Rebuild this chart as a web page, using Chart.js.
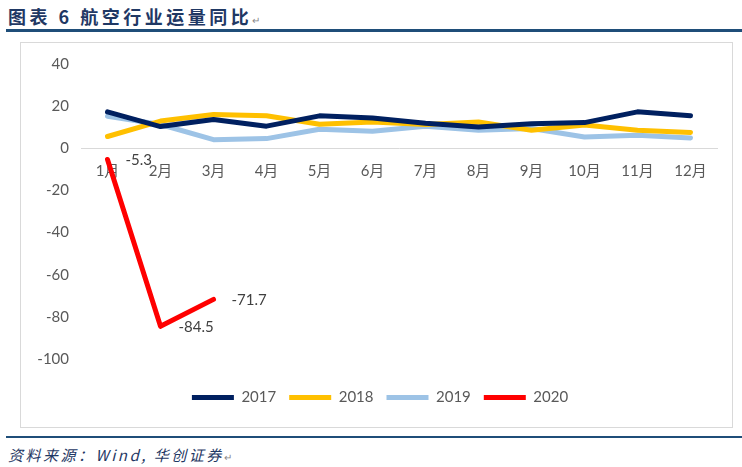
<!DOCTYPE html>
<html>
<head>
<meta charset="utf-8">
<script src="https://cdn.jsdelivr.net/npm/chart.js@4/dist/chart.umd.min.js"></script>
<style>
  body { margin: 0; width: 742px; height: 467px; background: #fff; position: relative; overflow: hidden; }
  .title { position: absolute; left: 8px; top: 3px; font-family: "Noto Sans CJK SC"; font-weight: bold; font-size: 18px; color: #1f3864; letter-spacing: 3.5px; }
  .rule { position: absolute; left: 6px; right: 0; background: #1f4e79; }
  .box { position: absolute; left: 20px; top: 42px; width: 711px; height: 384px; border: 1px solid #d9d9d9; }
  .source { position: absolute; left: 8px; top: 444px; font-family: "Noto Sans CJK SC"; font-style: italic; font-size: 15px; color: #1f3864; letter-spacing: 2.5px; }
  .mark { font-size: 10px; color: #888; font-weight: normal; font-style: normal; }
</style>
</head>
<body>
<div class="title">图表 6 航空行业运量同比<span class="mark">↵</span></div>
<div class="rule" style="top:29px;height:3px;"></div>
<div class="box"><canvas id="airChart" width="711" height="384"></canvas></div>
<div class="rule" style="top:436px;height:2px;"></div>
<div class="source">资料来源：Wind, 华创证券<span class="mark">↵</span></div>

<script>
// 월별 카테고리와 연도별 운송량 증감률(%)
const months = ["1月", "2月", "3月", "4月", "5月", "6月", "7月", "8月", "9月", "10月", "11月", "12月"];
const data2017 = [17.3, 10.3, 13.7, 10.5, 15.4, 14.4, 11.9, 10.1, 11.7, 12.2, 17.3, 15.4];
const data2018 = [5.6, 12.9, 16.0, 15.4, 11.4, 12.5, 11.3, 12.5, 8.6, 11.0, 8.6, 7.5];
const data2019 = [15.2, 11.3, 4.1, 4.6, 9.0, 8.1, 10.5, 8.6, 9.4, 5.4, 6.2, 4.9];
const data2020 = [-5.3, -84.5, -71.7, null, null, null, null, null, null, null, null, null];
const yTicks = [40, 20, 0, -20, -40, -60, -80, -100];

const textColor = "#595959";
const tickFont = { family: "Lato, 'Noto Sans CJK SC'", size: 15 };

function lineSet(label, data, color) {
  return {
    label: label,
    data: data,
    borderColor: color,
    backgroundColor: color,
    borderWidth: 5,
    borderCapStyle: "round",
    borderJoinStyle: "round",
    pointRadius: 0,
    tension: 0,
    spanGaps: false
  };
}

// 2020년 값 옆에 숫자 표시 + 범례 위치 조금 오른쪽으로
const valueLabels = {
  id: "valueLabels",
  afterLayout(chart) {
    chart.legend.left += 9;
    chart.legend.right += 9;
  },
  afterDatasetsDraw(chart) {
    const ctx = chart.ctx;
    const meta = chart.getDatasetMeta(3);
    ctx.save();
    ctx.font = "15px Lato";
    ctx.fillStyle = "#404040";
    ctx.textBaseline = "middle";
    ctx.textAlign = "left";
    meta.data.forEach((pt, i) => {
      const v = data2020[i];
      if (v === null) return;
      ctx.fillText(v.toFixed(1), pt.x + 18, pt.y + 1);
    });
    ctx.restore();
  }
};

new Chart(document.getElementById("airChart").getContext("2d"), {
  type: "line",
  data: {
    labels: months,
    datasets: [
      lineSet("2017", data2017, "#002060"),
      lineSet("2018", data2018, "#ffc000"),
      lineSet("2019", data2019, "#9dc3e6"),
      lineSet("2020", data2020, "#ff0000")
    ]
  },
  options: {
    responsive: false,
    animation: false,
    layout: { padding: { top: 21, right: 15, left: 4, bottom: 12 } },
    plugins: {
      tooltip: { enabled: false },
      legend: {
        position: "bottom",
        labels: {
          usePointStyle: true,
          pointStyle: "line",
          pointStyleWidth: 42,
          padding: 13,
          color: textColor,
          font: tickFont
        }
      }
    },
    scales: {
      x: {
        position: { y: 0 },
        offset: true,
        grid: { display: false, drawTicks: false },
        border: { display: true, color: "#d9d9d9", width: 1 },
        ticks: { color: textColor, font: tickFont, padding: 14, maxRotation: 0, autoSkip: false }
      },
      // 범례 위 빈 공간용
      gap: {
        type: "category",
        position: "bottom",
        grid: { display: false, drawTicks: false },
        border: { display: false },
        ticks: { display: false },
        afterFit(scale) { scale.height = 18; }
      },
      y: {
        min: -100,
        max: 40,
        grid: { display: false, drawTicks: false },
        border: { display: false },
        afterFit(scale) { scale.width = 56; },
        afterBuildTicks(scale) { scale.ticks = yTicks.map(v => ({ value: v })); },
        ticks: { color: textColor, font: tickFont, padding: 12 }
      }
    }
  },
  plugins: [valueLabels]
});
</script>
</body>
</html>
